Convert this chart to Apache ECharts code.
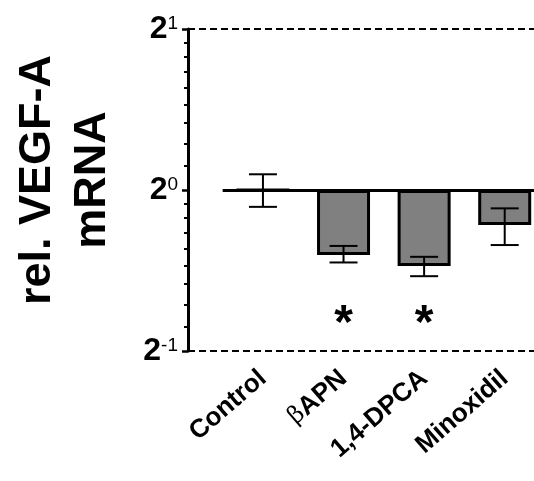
<!DOCTYPE html>
<html>
<head>
<meta charset="utf-8">
<script src="https://cdn.jsdelivr.net/npm/echarts@6/dist/echarts.min.js"></script>
<style>
html,body{margin:0;padding:0;background:#fff;}
#chart{width:534px;height:481px;}
</style>
</head>
<body>
<div id="chart"></div>
<script>
// ---- data ----
const categories = ['Control', 'βAPN', '1,4-DPCA', 'Minoxidil'];
const means = [1.0, 0.756, 0.721, 0.860];
const errUpper = [1.07, 0.786, 0.750, 0.924];
const errLower = [0.930, 0.732, 0.690, 0.789];
const significant = ['', '*', '*', ''];
const sigLevel = 0.56;
const yTickExponents = [-1, 0, 1];
const minorTickValues = [0.556, 0.611, 0.667, 0.722, 0.778, 0.833, 0.889, 0.944,
                         1.111, 1.222, 1.333, 1.444, 1.556, 1.667, 1.778, 1.889];
const yTitle = 'rel. VEGF-A\nmRNA';

// ---- build ----
const FONT = '"Liberation Sans", Arial, sans-serif';
const log2 = Math.log2;
const idx = categories.map((c, i) => i);

const barData = means.map((v, i) => [i, log2(v)]);
const errData = idx.map(i => [i, log2(errLower[i]), log2(errUpper[i])]);
const sigData = idx.filter(i => significant[i]).map(i => [i, log2(sigLevel), significant[i]]);

const chart = echarts.init(document.getElementById('chart'), null, {renderer: 'canvas'});
chart.setOption({
  animation: false,
  backgroundColor: '#fff',
  grid: {left: 188, right: -11, top: 29, bottom: 130, containLabel: false, outerBoundsMode: 'none'},
  xAxis: {
    type: 'value', min: -0.93, max: 3.5,
    axisLine: {show: false, onZero: false}, axisTick: {show: false}, splitLine: {show: false},
    axisLabel: {
      customValues: idx,
      rotate: 41, margin: 24,
      formatter: v => {
        const c = categories[Math.round(v)];
        return c === 'βAPN' ? '{g|β}{t|APN}' : '{t|' + c + '}';
      },
      rich: {
        t: {fontFamily: FONT, fontWeight: 'bold', fontSize: 26, color: '#000'},
        g: {fontFamily: '"DejaVu Serif", serif', fontWeight: 'normal', fontSize: 24, color: '#000'}
      }
    }
  },
  yAxis: [{
    type: 'value', min: yTickExponents[0], max: yTickExponents[yTickExponents.length - 1], interval: 1,
    name: yTitle, nameLocation: 'middle', nameRotate: 90, nameGap: 68,
    nameTextStyle: {fontFamily: FONT, fontWeight: 'bold', fontSize: 45, lineHeight: 55, color: '#000', padding: [0, 0, 0, 20]},
    axisLine: {show: true, onZero: false, lineStyle: {color: '#000', width: 3}},
    axisTick: {show: true, length: 6, lineStyle: {color: '#000', width: 2.5}},
    splitLine: {show: false},
    axisLabel: {
      margin: 10,
      formatter: v => '{b|2}{s|' + v + '}',
      rich: {
        b: {fontFamily: FONT, fontWeight: 'bold', fontSize: 32, color: '#000', lineHeight: 30},
        s: {fontFamily: FONT, fontWeight: 'normal', fontSize: 19, color: '#000', verticalAlign: 'top', lineHeight: 30}
      }
    }
  }, {
    type: 'value', min: -1, max: 1, position: 'left',
    axisLine: {show: false, onZero: false}, splitLine: {show: false}, axisLabel: {show: false},
    axisTick: {show: true, customValues: minorTickValues.map(log2), length: 4, lineStyle: {color: '#000', width: 2}}
  }],
  series: [{
    type: 'bar',
    data: barData,
    barWidth: 53,
    itemStyle: {color: '#808080', borderColor: '#000', borderWidth: 3},
    markLine: {
      silent: true, symbol: 'none', label: {show: false},
      lineStyle: {color: '#000', width: 2, type: [7, 4]},
      data: [{yAxis: -1}, {yAxis: 1}]
    }
  }, {
    type: 'custom',
    data: errData,
    z: 5,
    renderItem: (params, api) => {
      const x = api.value(0);
      const lo = api.coord([x, api.value(1)]);
      const hi = api.coord([x, api.value(2)]);
      const hw = 14;
      const st = {stroke: '#000', lineWidth: 2};
      return {type: 'group', children: [
        {type: 'line', shape: {x1: lo[0], y1: lo[1], x2: hi[0], y2: hi[1]}, style: st},
        {type: 'line', shape: {x1: lo[0] - hw, y1: lo[1], x2: lo[0] + hw, y2: lo[1]}, style: st},
        {type: 'line', shape: {x1: hi[0] - hw, y1: hi[1], x2: hi[0] + hw, y2: hi[1]}, style: st}
      ]};
    }
  }, {
    type: 'custom',
    data: sigData,
    z: 5,
    renderItem: (params, api) => {
      const p = api.coord([api.value(0), api.value(1)]);
      return {type: 'text', x: p[0], y: p[1], style: {
        text: sigData[params.dataIndex][2], fontFamily: FONT, fontWeight: 'bold', fontSize: 48,
        fill: '#000', align: 'center', verticalAlign: 'middle'}};
    }
  }, {
    type: 'line', data: [], z: 6,
    markLine: {
      silent: true, symbol: 'none', label: {show: false},
      lineStyle: {color: '#000', width: 3, type: 'solid'},
      data: [[{coord: [-0.5, 0]}, {coord: [3.5, 0]}]]
    }
  }]
});
</script>
</body>
</html>
